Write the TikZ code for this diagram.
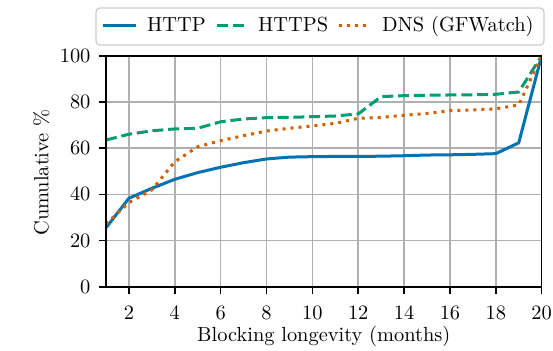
\documentclass[tikz,border=0pt]{standalone}
\usepackage{tikz}
\definecolor{cblue}{HTML}{0173B2}
\definecolor{cgreen}{HTML}{029E73}
\definecolor{corange}{HTML}{D55E00}
\definecolor{gridgray}{HTML}{B0B0B0}
\definecolor{framegray}{HTML}{CCCCCC}
\tikzset{
  gridline/.style={draw=gridgray, line width=0.75pt},
  spine/.style={draw=black, line width=0.8pt},
  httpline/.style={draw=cblue, line width=1.5pt, line join=round},
  httpsline/.style={draw=cgreen, line width=1.5pt, dash pattern=on 5.5pt off 2.4pt},
  dnsline/.style={draw=corange, line width=1.5pt, dash pattern=on 1.5pt off 2.5pt},
  ticklabel/.style={inner sep=0pt, font=\fontsize{10.2}{12}\selectfont},
  legendbox/.style={draw=framegray, line width=0.6pt, fill=white, rounded corners=2pt, inner sep=0pt},
  legendtext/.style={anchor=base west, inner sep=0pt, font=\fontsize{10.2}{12}\selectfont},
}
\begin{document}
\begin{tikzpicture}[x=0.5pt, y=-0.5pt]
\useasboundingbox (0,0) rectangle (553,350);
\begin{scope}[shift={(83.07,286.7)}, x=11.465pt, y=1.155pt]
  \foreach \m in {2,4,...,20} \draw[gridline] (\m,0) -- (\m,100);
  \foreach \v in {20,40,...,80} \draw[gridline] (1,\v) -- (20,\v);
  \begin{scope}
    \clip (1,0) rectangle (20,100);
    \draw[httpline] (1,25.5) -- (2,38.3) -- (3,42.6) -- (4,46.5) -- (5,49.4) -- (6,51.7) -- (7,53.7) -- (8,55.3) -- (9,56.1) -- (10,56.3) -- (11,56.4) -- (12,56.4) -- (13,56.5) -- (14,56.7) -- (15,57.0) -- (16,57.1) -- (17,57.3) -- (18,57.6) -- (19,62.3) -- (20,100);
    \draw[httpsline] (1,63.5) -- (2,66) -- (3,67.5) -- (4,68.3) -- (5,68.6) -- (6,71.4) -- (7,72.6) -- (8,73.2) -- (9,73.3) -- (10,73.6) -- (11,73.9) -- (12,74.8) -- (13,82.3) -- (14,82.7) -- (15,82.9) -- (16,83) -- (17,83.1) -- (18,83.3) -- (19,84.3) -- (20,100);
    \draw[dnsline] (1,27.2) -- (2,36.4) -- (3,41.9) -- (4,54.1) -- (5,60.6) -- (6,63.2) -- (7,65.4) -- (8,67.4) -- (9,68.6) -- (10,69.6) -- (11,70.7) -- (12,72.9) -- (13,73.3) -- (14,74.2) -- (15,75) -- (16,76.2) -- (17,76.5) -- (18,77) -- (19,78.7) -- (20,100);
  \end{scope}
  \draw[spine] (1,0) rectangle (20,100);
  \foreach \m in {2,4,...,20} {
    \draw[spine] (\m,0) -- ++(0pt,-3.5pt);
    \node[ticklabel, anchor=north, yshift=-9.2pt] (xt\m) at (\m,0) {\m};
  }
  \foreach \v in {0,20,...,100} {
    \draw[spine] (1,\v) -- ++(-3.5pt,0pt);
    \node[ticklabel, anchor=east, xshift=-7.6pt] (yt\v) at (1,\v) {\v};
  }
\end{scope}
\node[ticklabel, anchor=base] (xlabel) at (323.8,341) {Blocking longevity (months)};
\node[ticklabel, anchor=base, rotate=90] (ylabel) at (48.3,172.5) {Cumulative \%};
\node[legendbox, minimum width=224pt, minimum height=18.5pt] (legend) at (320,26.5) {};
\coordinate (l1a) at (103.3,25); \coordinate (l1b) at (136,25);
\coordinate (l2a) at (216.7,25); \coordinate (l2b) at (244,25);
\coordinate (l3a) at (339.3,25); \coordinate (l3b) at (367.7,25);
\draw[httpline] (l1a) -- (l1b);
\draw[httpsline] (l2a) -- (l2b);
\draw[dnsline] (l3a) -- (l3b);
\node[legendtext] (lt1) at (146.7,31.7) {HTTP};
\node[legendtext] (lt2) at (257.7,31.7) {HTTPS};
\node[legendtext] (lt3) at (381.7,31.7) {DNS (GFWatch)};
\end{tikzpicture}
\end{document}
